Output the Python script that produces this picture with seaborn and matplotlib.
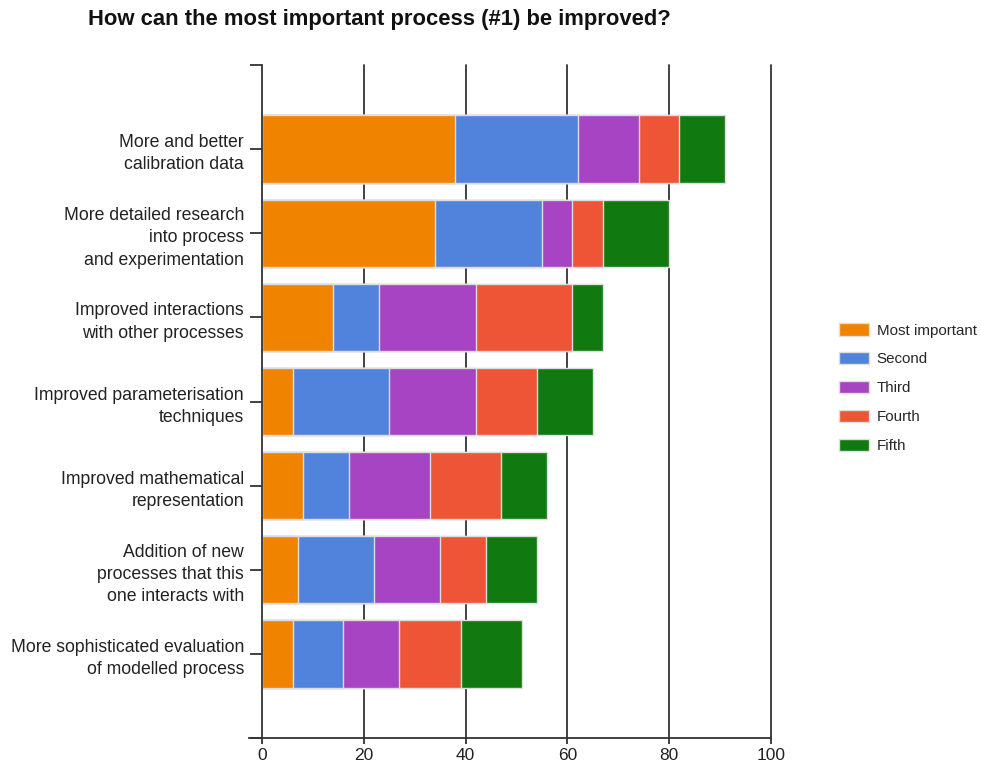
import matplotlib
matplotlib.use("Agg")
import matplotlib.pyplot as plt
import pandas as pd
import seaborn as sns
from matplotlib.patches import Patch

categories = [
    "More and better\ncalibration data",
    "More detailed research\ninto process\nand experimentation",
    "Improved interactions\nwith other processes",
    "Improved parameterisation\ntechniques",
    "Improved mathematical\nrepresentation",
    "Addition of new\nprocesses that this\none interacts with",
    "More sophisticated evaluation\nof modelled process",
]
series_names = ["Most important", "Second", "Third", "Fourth", "Fifth"]
most_important = [38, 34, 14, 6, 8, 7, 6]
second = [24, 21, 9, 19, 9, 15, 10]
third = [12, 6, 19, 17, 16, 13, 11]
fourth = [8, 6, 19, 12, 14, 9, 12]
fifth = [9, 13, 6, 11, 9, 10, 12]
colors = ["#f08300", "#5283dc", "#a644c3", "#ee5537", "#107a10"]

df = pd.DataFrame(
    {"category": categories, "Most important": most_important, "Second": second,
     "Third": third, "Fourth": fourth, "Fifth": fifth}
)
cum = df[series_names].cumsum(axis=1)

sns.set_style("white")
plt.rcParams["font.family"] = ["Liberation Sans", "DejaVu Sans"]

fig = plt.figure(figsize=(9.81, 7.69), dpi=100)
ax = fig.add_axes([262 / 981, 1 - 738 / 769, 509 / 981, 673 / 769])

# vertical grid drawn behind the bars
for gx in [20, 40, 60, 80, 100]:
    ax.axvline(gx, color="#333333", lw=1.3, zorder=0, clip_on=False)

# stacked bars: draw cumulative totals from largest to smallest
for name, color in reversed(list(zip(series_names, colors))):
    plot_df = pd.DataFrame({"category": categories, "value": cum[name]})
    sns.barplot(data=plot_df, x="value", y="category", orient="h", color=color,
                width=0.8, edgecolor="#dddddd", linewidth=1.0, saturation=1,
                ax=ax, zorder=2)

ax.set_xlim(0, 100)
ax.set_ylim(7, -1)
ax.set_xticks([0, 20, 40, 60, 80, 100])
ax.set_xticklabels(["0", "20", "40", "60", "80", "100"], fontsize=12.5, color="#222222")
ax.set_yticks(list(range(-1, 8)))
ax.set_yticklabels([""] + categories + [""], fontsize=12.7, color="#222222",
                   linespacing=1.4)
ax.tick_params(axis="y", left=True, length=9, width=1.3, color="#333333", pad=4)
ax.tick_params(axis="x", bottom=True, length=4, width=1.3, color="#333333", pad=3)
ax.set_xlabel("")
ax.set_ylabel("")
for side in ["top", "right"]:
    ax.spines[side].set_visible(False)
for side in ["left", "bottom"]:
    ax.spines[side].set_color("#333333")
    ax.spines[side].set_linewidth(1.3)
ax.spines["bottom"].set_bounds(-2.5, 100)

fig.text(88 / 981, 1 - 19 / 769, "How can the most important process (#1) be improved?",
         fontsize=15.8, fontweight="bold", ha="left", va="center", color="#111111")

handles = [Patch(facecolor=c, edgecolor="#dddddd", label=n) for n, c in zip(series_names, colors)]
fig.legend(handles=handles, loc="upper left", bbox_to_anchor=(839 / 981, 1 - 323 / 769),
           frameon=False, fontsize=10.9, handlelength=2.0, handleheight=0.9,
           labelspacing=0.95, handletextpad=0.5, borderaxespad=0, borderpad=0)

fig.savefig("out.png", dpi=100)
